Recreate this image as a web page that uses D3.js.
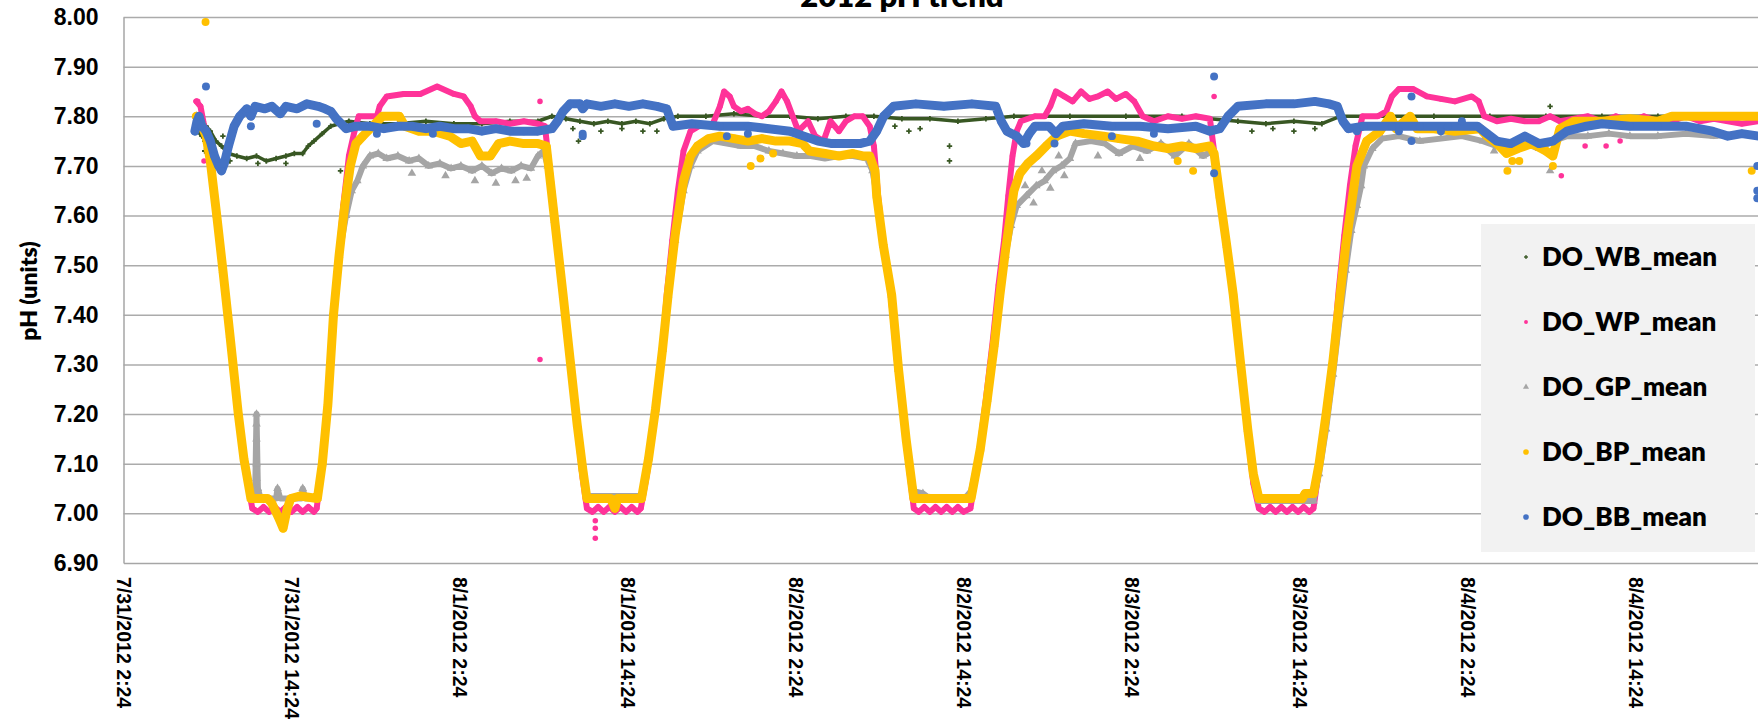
<!DOCTYPE html>
<html>
<head>
<meta charset="utf-8">
<script src="https://cdn.jsdelivr.net/npm/d3@7"></script>
<style>
  body { margin: 0; background: #fff; }
  svg { display: block; font-family: Lato, "Open Sans", sans-serif; font-weight: 800; }
</style>
</head>
<body>
<div id="chart"></div>
<script>
// x ticks every 12 h, axis runs one more step past the last label (cropped)
const xTickLabels = ["7/31/2012 2:24", "7/31/2012 14:24", "8/1/2012 2:24", "8/1/2012 14:24", "8/2/2012 2:24",
                     "8/2/2012 14:24", "8/3/2012 2:24", "8/3/2012 14:24", "8/4/2012 2:24", "8/4/2012 14:24"];
const xDomainLabels = ["7/31/2012 2:24", "8/5/2012 2:24"];
const yTickValues = [6.9, 7.0, 7.1, 7.2, 7.3, 7.4, 7.5, 7.6, 7.7, 7.8, 7.9, 8.0];

// readings as [hours since 7/31/2012 0:00, pH]
const wbMean = [[7.7,7.77],[8.0,7.76],[8.3,7.78],[8.6,7.77],[9.0,7.75],[9.4,7.74],[9.9,7.725],[10.5,7.72],[11.2,7.715],[11.9,7.72],[12.6,7.71],[13.3,7.715],[14.0,7.72],[14.6,7.725],[15.2,7.725],[15.6,7.74],[16.0,7.75],[16.6,7.765],[17.2,7.78],[17.8,7.785],[18.5,7.79],[20,7.785],[22,7.785],[24,7.79],[26,7.785],[28,7.785],[30,7.79],[32,7.79],[33,7.80],[34,7.795],[35,7.79],[36,7.785],[37,7.79],[38,7.785],[39,7.79],[40,7.785],[41,7.795],[42,7.80],[44,7.80],[46,7.805],[48,7.80],[50,7.80],[52,7.795],[54,7.80],[56,7.80],[58,7.795],[60,7.795],[62,7.79],[64,7.795],[66,7.80],[70,7.80],[74,7.80],[78,7.80],[80,7.795],[82,7.79],[84,7.785],[86,7.79],[88,7.785],[89.3,7.80],[92,7.80],[96,7.80],[100,7.80],[104,7.80],[108,7.80],[112,7.80],[116,7.80],[119.2,7.80]];
const wbScatter = [[17.9,7.69],[34.9,7.75],[61.4,7.74],[61.4,7.71],[104.3,7.82],[34.5,7.775],[36.5,7.77],[38.0,7.775],[39.5,7.77],[40.5,7.77],[57.5,7.78],[58.5,7.77],[59.3,7.775],[83.0,7.77],[84.5,7.775],[86.0,7.77],[87.5,7.775],[9.5,7.76],[10,7.71],[12,7.705],[14,7.705],[8.2,7.75],[8.2,7.73]];

const wpMean = [[7.6,7.83],[7.9,7.82],[8.1,7.79],[8.3,7.76],[8.6,7.71],[9.06,7.60],[9.5,7.49],[10.0,7.36],[10.6,7.20],[11.0,7.10],[11.4,7.04],[11.6,7.01],[12.0,7.003],[12.4,7.013],[12.8,7.003],[13.2,7.013],[13.6,7.003],[14.0,7.013],[14.4,7.003],[14.8,7.013],[15.2,7.003],[15.6,7.013],[16.0,7.003],[16.2,7.01],[16.5,7.08],[16.9,7.20],[17.3,7.37],[17.7,7.50],[18.1,7.62],[18.5,7.72],[18.9,7.77],[19.2,7.80],[20.5,7.80],[20.7,7.82],[21.2,7.84],[22.4,7.845],[23.6,7.845],[24.8,7.86],[26.0,7.845],[26.7,7.84],[27.2,7.82],[27.5,7.80],[27.9,7.79],[29.0,7.79],[30.0,7.785],[31.0,7.79],[32.0,7.785],[32.5,7.78],[32.9,7.68],[33.3,7.58],[33.8,7.45],[34.3,7.31],[34.8,7.17],[35.2,7.07],[35.5,7.01],[35.9,7.003],[36.3,7.013],[36.7,7.003],[37.1,7.013],[37.5,7.003],[37.9,7.013],[38.3,7.003],[38.7,7.013],[39.1,7.003],[39.35,7.01],[39.8,7.08],[40.3,7.18],[40.8,7.30],[41.2,7.44],[41.6,7.55],[42.0,7.65],[42.4,7.73],[42.9,7.77],[43.5,7.78],[44.5,7.785],[45.0,7.82],[45.3,7.85],[45.7,7.84],[46.0,7.82],[46.5,7.81],[47.0,7.815],[47.5,7.805],[48.0,7.80],[48.5,7.81],[49.0,7.83],[49.4,7.85],[49.8,7.83],[50.2,7.80],[50.6,7.77],[51.3,7.79],[51.8,7.76],[52.4,7.75],[52.9,7.79],[53.5,7.77],[54.0,7.79],[54.6,7.80],[55.2,7.80],[55.7,7.78],[56.0,7.74],[56.3,7.64],[56.67,7.54],[57.2,7.44],[57.7,7.29],[58.3,7.14],[58.85,7.01],[59.2,7.003],[59.6,7.013],[60.0,7.003],[60.4,7.013],[60.8,7.003],[61.2,7.013],[61.6,7.003],[62.0,7.013],[62.4,7.003],[62.9,7.01],[63.5,7.12],[64.0,7.23],[64.5,7.35],[64.9,7.46],[65.3,7.55],[65.6,7.64],[65.9,7.72],[66.2,7.77],[66.5,7.79],[67.5,7.80],[68.2,7.80],[68.6,7.82],[69.0,7.85],[69.6,7.84],[70.2,7.83],[70.8,7.85],[71.4,7.835],[72.0,7.84],[72.7,7.85],[73.3,7.835],[74.0,7.845],[74.6,7.83],[75.2,7.80],[76.0,7.79],[77.0,7.80],[78.0,7.795],[79.0,7.80],[80.0,7.795],[80.3,7.73],[80.7,7.64],[81.2,7.54],[81.67,7.44],[82.2,7.30],[82.7,7.16],[83.1,7.06],[83.5,7.01],[83.9,7.003],[84.3,7.013],[84.7,7.003],[85.1,7.013],[85.5,7.003],[85.9,7.013],[86.3,7.003],[86.7,7.013],[87.1,7.003],[87.4,7.01],[87.8,7.09],[88.3,7.20],[88.8,7.32],[89.2,7.45],[89.6,7.56],[90.0,7.66],[90.4,7.74],[90.9,7.80],[92.0,7.80],[92.6,7.81],[93.0,7.84],[93.5,7.855],[94.5,7.855],[95.5,7.84],[96.5,7.835],[97.5,7.83],[98.7,7.84],[99.2,7.83],[99.6,7.80],[100.5,7.79],[101.5,7.795],[102.5,7.79],[103.5,7.79],[104.3,7.80],[105.0,7.79],[106.0,7.795],[107.0,7.80],[108.0,7.79],[109.0,7.80],[110.0,7.79],[111.0,7.80],[112.0,7.79],[113.0,7.79],[114.0,7.80],[115.0,7.79],[116.0,7.795],[117.0,7.79],[118.0,7.785],[119.2,7.79]];
const wpScatter = [[8.15,7.71],[7.7,7.83],[32.15,7.83],[32.15,7.31],[36.1,6.95],[36.1,6.97],[36.1,6.985],[80.3,7.84],[105.1,7.68],[108.3,7.74],[109.3,7.75],[106.8,7.74]];

const gpMean = [[7.6,7.80],[7.9,7.79],[8.1,7.78],[8.3,7.76],[8.6,7.71],[9.06,7.60],[9.5,7.49],[10.0,7.36],[10.6,7.20],[11.0,7.11],[11.5,7.03],[11.8,7.03],[11.9,7.20],[12.0,7.05],[12.2,7.03],[13.3,7.03],[13.4,7.05],[13.6,7.03],[15.1,7.03],[15.2,7.05],[15.4,7.03],[16.25,7.03],[16.6,7.10],[17.0,7.22],[17.4,7.40],[17.8,7.52],[18.3,7.60],[18.7,7.65],[19.1,7.67],[19.5,7.70],[20.0,7.72],[20.6,7.725],[21.2,7.715],[22.0,7.72],[22.8,7.71],[23.5,7.715],[24.2,7.70],[25.0,7.705],[25.8,7.695],[26.5,7.70],[27.3,7.69],[28.0,7.70],[28.7,7.685],[29.4,7.695],[30.1,7.69],[30.8,7.70],[31.5,7.695],[32.0,7.72],[32.4,7.73],[32.7,7.70],[33.2,7.59],[33.8,7.44],[34.3,7.31],[34.8,7.18],[35.2,7.09],[35.5,7.035],[39.4,7.035],[39.9,7.11],[40.4,7.21],[40.9,7.33],[41.3,7.44],[41.8,7.55],[42.4,7.65],[42.9,7.70],[43.4,7.73],[44.5,7.75],[45.5,7.745],[46.5,7.74],[47.5,7.74],[48.5,7.73],[49.5,7.725],[50.5,7.72],[51.5,7.72],[52.5,7.715],[53.5,7.72],[54.5,7.72],[55.5,7.715],[55.9,7.69],[56.2,7.64],[56.67,7.54],[57.27,7.44],[57.76,7.29],[58.3,7.15],[58.85,7.045],[59.5,7.04],[60.0,7.03],[62.5,7.03],[62.94,7.045],[63.6,7.13],[64.1,7.23],[64.6,7.34],[65.0,7.44],[65.4,7.52],[65.8,7.58],[66.2,7.62],[66.9,7.64],[67.6,7.66],[68.2,7.67],[68.8,7.69],[69.4,7.70],[70.0,7.715],[70.4,7.745],[71.5,7.75],[72.5,7.745],[73.5,7.725],[74.5,7.74],[75.5,7.73],[76.5,7.745],[77.5,7.72],[78.5,7.745],[79.5,7.72],[80.2,7.73],[80.7,7.64],[81.2,7.54],[81.67,7.44],[82.2,7.30],[82.7,7.17],[83.1,7.08],[83.5,7.025],[87.4,7.025],[87.8,7.08],[88.3,7.17],[88.8,7.28],[89.3,7.40],[89.7,7.49],[90.1,7.57],[90.5,7.62],[90.8,7.66],[91.0,7.70],[91.6,7.735],[92.3,7.755],[93.5,7.76],[95.0,7.75],[96.5,7.755],[98.0,7.76],[99.5,7.75],[100.5,7.74],[101.5,7.73],[102.5,7.745],[103.5,7.735],[104.5,7.75],[105.5,7.76],[107.0,7.76],[108.5,7.765],[110.0,7.76],[112.0,7.76],[114.0,7.765],[116.0,7.76],[118.0,7.765],[119.2,7.76]];
const gpScatter = [[23.0,7.685],[25.4,7.68],[27.5,7.67],[29.0,7.665],[30.4,7.67],[31.2,7.675],[66.8,7.66],[67.4,7.625],[68.0,7.69],[68.6,7.655],[69.2,7.72],[69.6,7.68],[72.0,7.72],[75.0,7.715],[100.3,7.73],[104.3,7.69],[11.9,7.18],[11.9,7.15],[11.9,7.10],[11.9,7.07]];

const bpMean = [[7.6,7.80],[7.8,7.795],[8.0,7.78],[8.3,7.76],[8.6,7.71],[9.06,7.60],[9.5,7.49],[10.0,7.36],[10.6,7.20],[11.0,7.11],[11.5,7.03],[12.7,7.03],[13.0,7.02],[13.5,6.99],[13.8,6.97],[14.1,7.01],[14.35,7.03],[15.0,7.035],[16.25,7.03],[16.6,7.10],[17.0,7.22],[17.4,7.40],[17.8,7.52],[18.2,7.62],[18.6,7.70],[19.0,7.745],[19.5,7.76],[20.2,7.78],[20.9,7.80],[21.5,7.80],[22.1,7.80],[22.5,7.78],[23.5,7.77],[24.5,7.77],[25.7,7.76],[26.5,7.745],[27.3,7.75],[27.9,7.72],[28.6,7.72],[29.2,7.745],[30.0,7.75],[31.0,7.745],[32.0,7.745],[32.6,7.74],[33.2,7.59],[33.8,7.44],[34.3,7.31],[34.8,7.18],[35.2,7.09],[35.5,7.03],[37.2,7.03],[37.5,7.01],[37.7,7.03],[39.4,7.03],[39.9,7.11],[40.4,7.21],[40.9,7.33],[41.3,7.44],[41.8,7.56],[42.4,7.67],[42.9,7.72],[43.4,7.74],[44.2,7.755],[45.0,7.76],[46.0,7.755],[47.0,7.75],[48.0,7.755],[49.0,7.75],[50.0,7.75],[50.9,7.745],[51.4,7.73],[52.5,7.725],[53.5,7.72],[54.5,7.725],[55.2,7.72],[55.7,7.72],[56.08,7.69],[56.2,7.64],[56.67,7.54],[57.27,7.44],[57.76,7.29],[58.3,7.15],[58.85,7.03],[62.94,7.03],[63.6,7.13],[64.1,7.23],[64.6,7.34],[65.0,7.44],[65.4,7.53],[65.7,7.59],[66.0,7.65],[66.43,7.685],[67.0,7.705],[67.6,7.72],[68.3,7.74],[69.06,7.76],[70.0,7.77],[71.0,7.765],[72.4,7.76],[73.5,7.755],[74.8,7.75],[76.0,7.74],[77.0,7.735],[78.0,7.74],[79.0,7.735],[80.0,7.74],[80.3,7.725],[80.7,7.64],[81.2,7.54],[81.67,7.44],[82.2,7.30],[82.7,7.17],[83.1,7.08],[83.5,7.03],[86.6,7.03],[86.8,7.04],[87.4,7.04],[87.8,7.10],[88.3,7.20],[88.8,7.31],[89.3,7.44],[89.7,7.54],[90.0,7.60],[90.5,7.70],[91.2,7.75],[92.15,7.77],[92.9,7.80],[93.3,7.775],[94.3,7.80],[94.8,7.775],[96.0,7.775],[97.5,7.77],[99.3,7.775],[99.8,7.76],[100.5,7.745],[101.2,7.725],[102.0,7.735],[103.0,7.745],[104.0,7.73],[104.5,7.72],[105.0,7.775],[106.0,7.79],[108.0,7.79],[110.0,7.795],[112.0,7.79],[113.0,7.80],[115.0,7.80],[117.0,7.80],[119.2,7.80]];
const bpScatter = [[8.26,7.99],[47.2,7.70],[47.9,7.715],[48.8,7.725],[77.7,7.71],[78.8,7.69],[101.25,7.69],[101.6,7.71],[102.1,7.71],[104.5,7.70],[118.7,7.69]];

const bbMean = [[7.5,7.77],[7.65,7.79],[7.8,7.80],[8.0,7.78],[8.3,7.77],[8.6,7.75],[8.9,7.72],[9.2,7.70],[9.4,7.69],[9.6,7.705],[9.9,7.74],[10.3,7.78],[10.7,7.80],[11.2,7.815],[11.5,7.80],[11.8,7.82],[12.5,7.815],[13.0,7.82],[13.6,7.805],[14.0,7.82],[14.8,7.815],[15.5,7.825],[16.3,7.82],[16.8,7.815],[17.2,7.81],[17.6,7.795],[18.3,7.775],[19,7.78],[20,7.78],[21,7.775],[22,7.78],[23,7.78],[24,7.775],[25,7.78],[26,7.775],[27,7.775],[28,7.77],[29,7.775],[30,7.77],[31,7.77],[32,7.77],[33.0,7.775],[33.4,7.79],[33.8,7.81],[34.3,7.825],[35.0,7.825],[35.2,7.815],[35.5,7.825],[36.5,7.82],[37.5,7.825],[38.5,7.82],[39.5,7.825],[40.5,7.82],[41.2,7.815],[41.65,7.78],[43,7.785],[45,7.78],[47,7.78],[48.5,7.775],[50,7.77],[51,7.76],[52,7.75],[53,7.745],[54,7.745],[55,7.745],[55.7,7.75],[56.2,7.77],[56.7,7.80],[57.4,7.82],[59,7.825],[61,7.82],[63,7.825],[64.7,7.82],[65.1,7.79],[65.5,7.77],[66.2,7.76],[66.7,7.745],[67.1,7.765],[67.5,7.78],[68.5,7.78],[69,7.765],[69.5,7.78],[71,7.785],[73,7.78],[75,7.78],[77,7.775],[79,7.78],[80,7.77],[80.7,7.775],[81.3,7.80],[82,7.82],[84,7.825],[86,7.825],[87.5,7.83],[88.5,7.825],[89.1,7.82],[89.5,7.79],[89.9,7.775],[91,7.78],[93,7.78],[95,7.78],[97,7.78],[99.1,7.78],[99.8,7.765],[100.5,7.75],[101.5,7.745],[102.5,7.76],[103.5,7.745],[104.5,7.75],[105.5,7.77],[106.9,7.78],[108,7.785],[110,7.78],[112,7.78],[114,7.78],[115.9,7.77],[117,7.76],[118,7.765],[119.2,7.76]];
const bbScatter = [[8.29,7.86],[80.3,7.88],[80.3,7.685],[119.1,7.65],[119.1,7.635],[119.1,7.70],[35.2,7.765],[35.2,7.76],[11.5,7.78],[16.2,7.785],[20.5,7.765],[24.5,7.765],[45.5,7.76],[47,7.765],[66.9,7.745],[68.9,7.745],[73,7.76],[76,7.765],[90.5,7.77],[93.5,7.77],[96.5,7.77],[98,7.79],[94.4,7.84],[94.4,7.75]];

const width = 1758, height = 720;
const plot = {left: 123.5, right: 1803.5, top: 17, bottom: 563};

const parseTime = d3.timeParse("%m/%d/%Y %H:%M");
const formatTime = d3.timeFormat("%-m/%-d/%Y %-H:%M");
const t0 = new Date(2012, 6, 31);
const toDate = h => new Date(t0.getTime() + h * 3600e3);

const x = d3.scaleTime()
    .domain(xDomainLabels.map(parseTime))
    .range([plot.left, plot.right]);
const y = d3.scaleLinear()
    .domain([6.9, 8.0])
    .range([plot.bottom, plot.top]);

const svg = d3.select("#chart").append("svg")
    .attr("width", width)
    .attr("height", height);

// horizontal gridlines
svg.append("g")
    .attr("transform", `translate(${plot.left},0)`)
    .call(d3.axisLeft(y).tickValues(yTickValues.slice(1)).tickSize(-(width - plot.left)).tickFormat(""))
    .call(g => g.select(".domain").remove())
    .call(g => g.selectAll("line").attr("stroke", "#ababab").attr("stroke-width", 1.5));

// y axis
svg.append("g")
    .attr("transform", `translate(${plot.left},0)`)
    .call(d3.axisLeft(y).tickValues(yTickValues).tickFormat(d3.format(".2f")).tickSize(0).tickPadding(25))
    .call(g => g.select(".domain").attr("stroke", "#a6a6a6").attr("stroke-width", 1.5))
    .call(g => g.selectAll("text").attr("font-size", 23).attr("font-family", null).attr("fill", "#000"));

// x axis, labels turned to read downward
svg.append("g")
    .attr("transform", `translate(0,${plot.bottom})`)
    .call(d3.axisBottom(x).tickValues(xTickLabels.map(parseTime)).tickFormat(formatTime).tickSize(0))
    .call(g => g.select(".domain").attr("stroke", "#a6a6a6").attr("stroke-width", 1.5))
    .call(g => g.selectAll("text")
        .attr("font-size", 19.5).attr("font-family", null).attr("fill", "#000")
        .attr("x", 0).attr("y", 0).attr("dy", "0.35em")
        .attr("text-anchor", "start")
        .attr("transform", "translate(0,14) rotate(90)"));

svg.append("text")
    .attr("transform", "translate(37,291) rotate(-90)")
    .attr("text-anchor", "middle")
    .attr("font-size", 23)
    .text("pH (units)");

svg.append("text")
    .attr("x", 902).attr("y", 6.5)
    .attr("text-anchor", "middle")
    .attr("font-size", 31)
    .text("2012 pH trend");

const series = [
    {name: "DO_WB_mean", color: "#385723", values: wbMean, extra: wbScatter, symbol: d3.symbolCross, size: 16, width: 3.5},
    {name: "DO_WP_mean", color: "#ff3399", values: wpMean, extra: wpScatter, symbol: d3.symbolCircle, size: 24, width: 6},
    {name: "DO_GP_mean", color: "#a5a5a5", values: gpMean, extra: gpScatter, symbol: d3.symbolTriangle, size: 32, width: 6},
    {name: "DO_BP_mean", color: "#ffc000", values: bpMean, extra: bpScatter, symbol: d3.symbolCircle, size: 50, width: 9},
    {name: "DO_BB_mean", color: "#4472c4", values: bbMean, extra: bbScatter, symbol: d3.symbolCircle, size: 50, width: 9}
];

const line = d3.line()
    .x(d => x(toDate(d[0])))
    .y(d => y(d[1]));

// dense logger readings: drawn as a marker-wide band plus the markers
series.forEach(s => {
    const g = svg.append("g");
    g.append("path")
        .attr("d", line(s.values))
        .attr("fill", "none")
        .attr("stroke", s.color)
        .attr("stroke-width", s.width)
        .attr("stroke-linejoin", "round")
        .attr("stroke-linecap", "round");
    g.selectAll(".pt")
        .data(s.values.concat(s.extra))
        .enter()
        .append("path")
        .attr("transform", d => `translate(${x(toDate(d[0]))},${y(d[1])})`)
        .attr("d", d3.symbol().type(s.symbol).size(s.size))
        .attr("fill", s.color);
});

// legend
const legend = svg.append("g");
legend.append("rect")
    .attr("x", 1481).attr("y", 224)
    .attr("width", 274).attr("height", 328)
    .attr("fill", "#f2f2f2");
const items = legend.selectAll(".item")
    .data(series)
    .enter()
    .append("g")
    .attr("transform", (d, i) => `translate(1526,${257 + i * 65})`);
items.append("path")
    .attr("d", d => d3.symbol().type(d.symbol).size(d.size * 0.5)())
    .attr("fill", d => d.color);
items.append("text")
    .attr("x", 16).attr("dy", "0.35em")
    .attr("font-size", 26)
    .text(d => d.name);
</script>
</body>
</html>
